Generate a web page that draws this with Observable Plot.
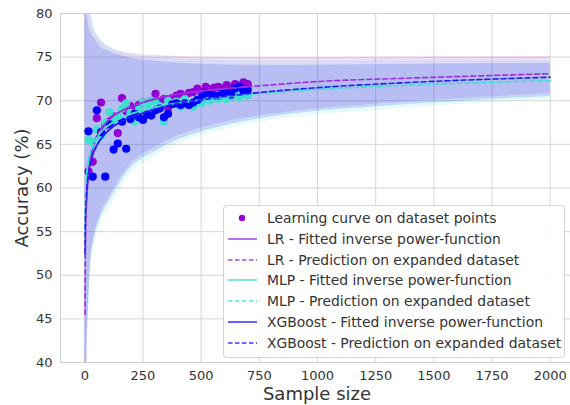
<!DOCTYPE html>
<html><head><meta charset="utf-8">
<script src="https://cdn.jsdelivr.net/npm/d3@7"></script>
<script src="https://cdn.jsdelivr.net/npm/@observablehq/plot@0.6"></script>
<style>
body{margin:0;background:#fff;font-family:"DejaVu Sans",sans-serif;}
#wrap{position:relative;width:570px;height:405px;overflow:hidden;}
#legend{position:absolute;left:223px;top:205px;width:342px;height:153px;border:1px solid #d4d4d4;border-radius:4px;background:rgba(255,255,255,0.88);box-sizing:border-box;}
.row{position:absolute;left:0;height:20px;width:340px;}
.row svg{position:absolute;left:3px;top:0;}
.row span{position:absolute;left:43px;top:1px;font-size:13.9px;color:#333;white-space:nowrap;line-height:18px;}
</style></head><body><div id="wrap"></div>
<script>
// ---- data ----
const models = ["LR", "MLP", "XGBoost"];
const modelColors = ["#9400D3", "#40E0D0", "#0000FF"];
const lineColors = ["#9a2ee0", "#40E0D0", "#1f1fff"];

const xTicks = [0, 250, 500, 750, 1000, 1250, 1500, 1750, 2000];
const yTicks = [40, 45, 50, 55, 60, 65, 70, 75, 80];

// learning-curve sample sizes
const pointX = [16,34,52,70,88,106,124,142,160,178,196,214,232,250,268,286,304,322,340,358,376,394,412,430,448,466,484,502,520,538,556,574,592,610,628,646,664,682,700];
const lrPoints = [61.9,63.0,68.0,69.8,67.2,67.6,68.2,66.3,70.3,68.8,69.4,68.9,69.5,69.8,69.6,70.0,70.8,69.9,70.2,69.2,70.3,70.6,70.8,70.5,70.9,71.0,71.4,71.0,71.6,71.3,71.5,71.6,71.4,71.8,71.5,71.9,71.7,72.1,71.9];
const mlpPoints = [65.5,65.3,66.7,66.0,67.5,68.7,67.8,68.2,69.1,69.7,68.6,67.6,69.0,69.8,69.5,70.0,69.8,69.4,67.6,70.0,69.7,69.9,69.3,70.2,69.6,69.3,70.1,69.7,70.3,70.0,70.5,70.2,70.6,70.2,70.5,71.0,70.4,70.8,70.6];
const xgbPoints = [66.5,61.3,68.9,66.4,61.3,67.3,64.4,65.1,67.6,64.5,67.9,68.5,68.1,67.8,68.4,68.3,68.9,69.1,68.1,68.5,69.6,69.7,69.5,69.7,69.5,69.8,70.1,70.4,70.9,70.8,70.6,70.6,70.8,71.0,70.7,71.4,71.6,71.1,71.2];

// fitted inverse power-function (solid) on the dataset range
const fitX = [8,16,30,50,80,120,180,250,350,500,700];
const lrFit = [58.7,61.7,64.1,65.8,67.1,68.2,69.1,69.8,70.5,71.1,71.6];
const mlpFit = [61.3,63.1,64.5,65.7,66.7,67.5,68.3,68.9,69.5,70.1,70.7];
const xgbFit = [59.6,61.7,63.5,64.8,66.0,67.0,67.9,68.6,69.4,70.1,70.8];

// prediction on expanded dataset (dashed)
const predX = [1,2,4,8,16,30,50,80,120,180,250,350,500,700,1000,1400,2000];
const lrPred = [45.5,50.7,55.0,58.7,61.7,64.1,65.8,67.1,68.2,69.1,69.8,70.5,71.1,71.6,72.2,72.6,73.1];
const mlpPred = [55.3,57.4,59.4,61.3,63.1,64.5,65.7,66.7,67.5,68.3,68.9,69.5,70.1,70.7,71.3,71.8,72.3];
const xgbPred = [52.5,55.1,57.4,59.6,61.7,63.5,64.8,66.0,67.0,67.9,68.6,69.4,70.1,70.8,71.5,72.1,72.7];

// confidence bands
const bandX = [1,5,10,16,24,40,67,110,182,324,611,839,1300,2000];
const lrUpper = [110,90,84,81.5,80.0,78.2,77.0,76.1,75.5,75.15,74.95,74.95,75.0,75.05];
const lrLower = [10,30,42,47,51.5,54.5,57,59.2,62.3,65.0,67.6,68.6,69.7,70.8];
const mlpUpper = [120,92,86,82.5,80.6,78.6,77.1,76.1,75.35,74.9,74.6,74.55,74.55,74.6];
const mlpLower = [0,26,39,45,50,53.2,55.8,57.9,61.1,64.0,66.8,67.9,69.0,70.2];
const xgbUpper = [100,84,80.5,78.8,78.0,77.2,76.2,75.6,75.0,74.5,74.1,74.05,74.15,74.3];
const xgbLower = [5,28,41,46,51,54,56.5,58.7,61.8,64.5,67.2,68.3,69.4,70.5];

// ---- tables ----
const pts = [lrPoints, mlpPoints, xgbPoints];
const fits = [lrFit, mlpFit, xgbFit];
const preds = [lrPred, mlpPred, xgbPred];
const ups = [lrUpper, mlpUpper, xgbUpper];
const lows = [lrLower, mlpLower, xgbLower];
const pointRows = [], fitRows = [], predRows = [], bandRows = [];
models.forEach((m, i) => {
  pointX.forEach((x, j) => pointRows.push({model: m, x, y: pts[i][j]}));
  fitX.forEach((x, j) => fitRows.push({model: m, x, y: fits[i][j]}));
  predX.forEach((x, j) => predRows.push({model: m, x, y: preds[i][j]}));
  bandX.forEach((x, j) => bandRows.push({model: m, x, lo: lows[i][j], hi: ups[i][j]}));
});
const lineColorOf = m => lineColors[models.indexOf(m)];

const plot = Plot.plot({
  width: 570, height: 405,
  marginLeft: 60, marginTop: 13, marginBottom: 43, marginRight: 0,
  x: {domain: [-100, 2100], range: [61, 573]},
  y: {domain: [40, 80], range: [362, 13]},
  color: {domain: models, range: modelColors},
  style: {fontFamily: "DejaVu Sans, sans-serif", fontSize: "13px", color: "#333", background: "#fff"},
  marks: [
    Plot.gridX(xTicks, {stroke: "#d6d6d6", strokeOpacity: 1, strokeWidth: 1}),
    Plot.gridY(yTicks, {stroke: "#d6d6d6", strokeOpacity: 1, strokeWidth: 1}),
    Plot.areaY(bandRows, {x: "x", y1: "lo", y2: "hi", z: "model", fill: "model", fillOpacity: 0.14, curve: "monotone-x", clip: true}),
    Plot.dot(pointRows, {x: "x", y: "y", fill: "model", r: 4.1, stroke: "none"}),
    ...models.map(m => Plot.line(fitRows.filter(d => d.model === m), {x: "x", y: "y", stroke: lineColorOf(m), strokeWidth: 1.6, curve: "monotone-x", clip: true})),
    ...models.map(m => Plot.line(predRows.filter(d => d.model === m), {x: "x", y: "y", stroke: lineColorOf(m), strokeWidth: 1.6, strokeDasharray: "5,3", curve: "monotone-x", clip: true})),
    Plot.frame({stroke: "#cfcfcf"}),
    Plot.axisX(xTicks, {tickSize: 0, tickPadding: 8, fontSize: 13, label: null, tickFormat: d3.format("d")}),
    Plot.axisY(yTicks, {tickSize: 0, tickPadding: 8, fontSize: 13, label: null, tickFormat: d3.format("d")})
  ]
});

const wrap = document.getElementById("wrap");
wrap.appendChild(plot);
const svg = d3.select(plot);
svg.append("text").attr("x", 317).attr("y", 400).attr("text-anchor", "middle")
  .attr("font-size", 18).attr("fill", "#333").attr("font-family", "DejaVu Sans, sans-serif").text("Sample size");
svg.append("text").attr("transform", "translate(28,188) rotate(-90)").attr("text-anchor", "middle")
  .attr("font-size", 18).attr("fill", "#333").attr("font-family", "DejaVu Sans, sans-serif").text("Accuracy (%)");

// legend
const legendItems = [
  {label: "Learning curve on dataset points", type: "dot", color: modelColors[0]},
  {label: "LR - Fitted inverse power-function", type: "solid", color: "#a64de6"},
  {label: "LR - Prediction on expanded dataset", type: "dash", color: "#a64de6"},
  {label: "MLP - Fitted inverse power-function", type: "solid", color: "#56e3d5"},
  {label: "MLP - Prediction on expanded dataset", type: "dash", color: "#56e3d5"},
  {label: "XGBoost - Fitted inverse power-function", type: "solid", color: "#3a3aff"},
  {label: "XGBoost - Prediction on expanded dataset", type: "dash", color: "#3a3aff"}
];
const legend = document.createElement("div");
legend.id = "legend";
legendItems.forEach((it, i) => {
  const row = document.createElement("div");
  row.className = "row";
  row.style.top = (2 + i * 20.8) + "px";
  let sym;
  if (it.type === "dot") sym = `<circle cx="15" cy="10" r="3.2" fill="${it.color}"/>`;
  else sym = `<line x1="1" x2="30" y1="10" y2="10" stroke="${it.color}" stroke-width="1.6" ${it.type === "dash" ? 'stroke-dasharray="4.5,2.5"' : ""}/>`;
  row.innerHTML = `<svg width="32" height="20">${sym}</svg><span>${it.label}</span>`;
  legend.appendChild(row);
});
wrap.appendChild(legend);
</script>
</body></html>
